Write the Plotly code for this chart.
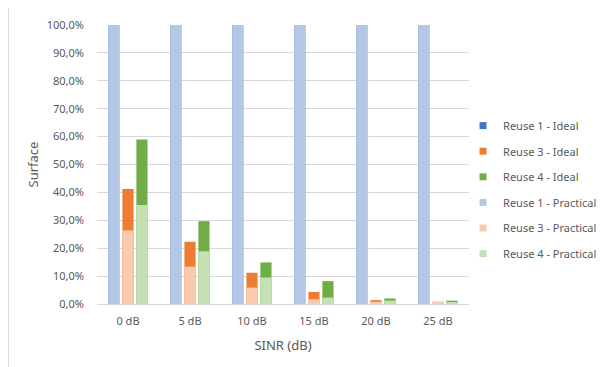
import plotly.graph_objects as go

# SINR categories
categories = ["0 dB", "5 dB", "10 dB", "15 dB", "20 dB", "25 dB"]

# surface fractions
reuse1_ideal = [1.0, 1.0, 1.0, 1.0, 1.0, 1.0]
reuse3_ideal = [0.412, 0.223, 0.112, 0.043, 0.014, 0.008]
reuse4_ideal = [0.590, 0.297, 0.149, 0.082, 0.020, 0.012]
reuse1_practical = [1.0, 1.0, 1.0, 1.0, 1.0, 1.0]
reuse3_practical = [0.264, 0.134, 0.059, 0.017, 0.008, 0.005]
reuse4_practical = [0.355, 0.189, 0.095, 0.023, 0.012, 0.007]

series = [
    ("Reuse 1 - Ideal", reuse1_ideal, "#4472C4", -0.32),
    ("Reuse 3 - Ideal", reuse3_ideal, "#ED7D31", -0.09),
    ("Reuse 4 - Ideal", reuse4_ideal, "#70AD47", 0.135),
    ("Reuse 1 - Practical", reuse1_practical, "#B4C7E7", -0.32),
    ("Reuse 3 - Practical", reuse3_practical, "#F8CBAD", -0.09),
    ("Reuse 4 - Practical", reuse4_practical, "#C5E0B4", 0.135),
]

fig = go.Figure()
for name, vals, color, off in series:
    fig.add_trace(go.Bar(
        x=categories, y=vals, name=name,
        marker=dict(color=color, line=dict(width=0)),
        width=0.18, offset=off, showlegend=False,
    ))
    # small square swatch for the legend, like the original
    fig.add_trace(go.Scatter(
        x=[None], y=[None], mode="markers", name=name, legendgroup=name,
        marker=dict(symbol="square", size=7, color=color),
    ))

fig.update_layout(
    width=598, height=359,
    barmode="overlay",
    separators=", ",
    plot_bgcolor="white", paper_bgcolor="white",
    font=dict(family="Noto Sans", size=11, color="#595959"),
    margin=dict(l=89, r=137, t=17, b=63, autoexpand=False),
    legend=dict(x=0.984, y=0.41, xanchor="left", yanchor="middle",
                bgcolor="rgba(0,0,0,0)",
                tracegroupgap=6.6, font=dict(size=11, color="#595959"),
                itemwidth=30),
    xaxis=dict(range=[-0.5, 5.5], showgrid=False, ticks="",
               showline=True, linecolor="#D9D9D9", ticklabelstandoff=7,
               title=dict(text="SINR (dB)", standoff=13)),
    yaxis=dict(range=[0, 1.0], dtick=0.1, tickformat=".1%",
               gridcolor="#D9D9D9", zeroline=False, ticklabelstandoff=12,
               title=dict(text="Surface", standoff=5)),
    # left edge of the chart frame
    shapes=[dict(type="line", xref="paper", yref="paper",
                 x0=-0.238, x1=-0.238, y0=-0.226, y1=1.061,
                 line=dict(color="#D9D9D9", width=1))],
)

fig.write_html("out.html")
